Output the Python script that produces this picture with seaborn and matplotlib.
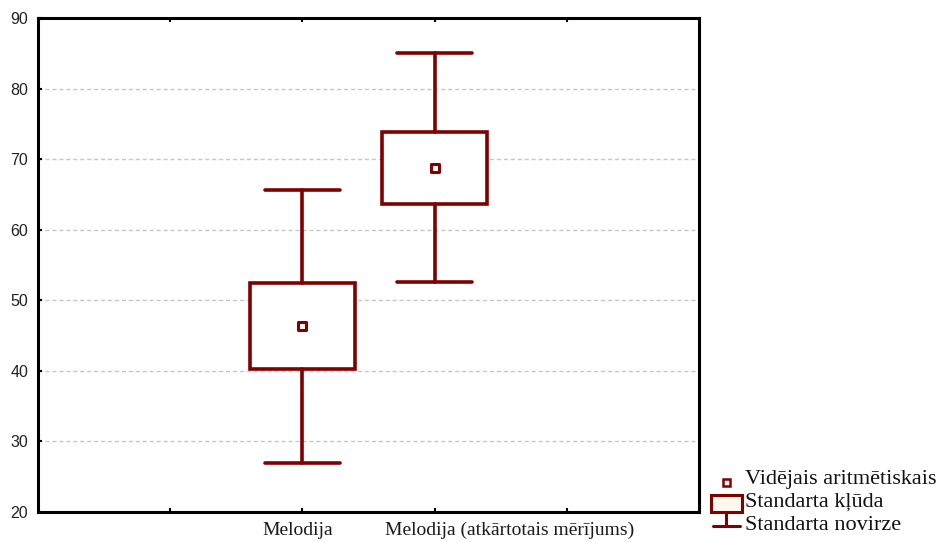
import matplotlib
matplotlib.use("Agg")
import matplotlib.pyplot as plt
import matplotlib.transforms as mtransforms
from matplotlib.legend_handler import HandlerBase
from matplotlib.patches import Rectangle
from matplotlib.lines import Line2D
import seaborn as sns
import pandas as pd

# Summary statistics per measurement
categories = ["Melodija", "Melodija (atkārtotais mērījums)"]
means = [46.3, 68.8]
std_errors = [6.1, 5.1]
std_devs = [19.3, 16.2]

legend_labels = ["Vidējais aritmētiskais", "Standarta kļūda", "Standarta novirze"]

df = pd.DataFrame({"kategorija": categories, "vid": means,
                   "se": std_errors, "sd": std_devs})

DARK_RED = "#800000"
SERIF = ["Liberation Serif", "DejaVu Serif"]

sns.set_theme(style="white")
plt.rcParams["font.family"] = ["Liberation Sans", "DejaVu Sans"]

fig = plt.figure(figsize=(9.38, 5.42), dpi=100)
ax = fig.add_axes([38 / 938, 30 / 542, 661 / 938, 494 / 542])

# Box = mean ± SE, whiskers = mean ± SD
stats = []
for _, r in df.iterrows():
    stats.append({
        "med": r["vid"],
        "q1": r["vid"] - r["se"],
        "q3": r["vid"] + r["se"],
        "whislo": r["vid"] - r["sd"],
        "whishi": r["vid"] + r["sd"],
        "label": r["kategorija"],
    })

line_kw = dict(color=DARK_RED, linewidth=2.6)
ax.bxp(stats, positions=range(len(df)), widths=0.8, capwidths=0.57,
       showfliers=False, patch_artist=True,
       boxprops=dict(facecolor="white", edgecolor=DARK_RED, linewidth=2.6),
       whiskerprops=line_kw, capprops=line_kw,
       medianprops=dict(linewidth=0, alpha=0))

sns.scatterplot(data=df, x=range(len(df)), y="vid", ax=ax, marker="s",
                s=30, color="white", edgecolor=DARK_RED, linewidth=2.2,
                zorder=5, legend=False)

ax.set_xlim(-2, 3)
ax.set_ylim(20, 90)
ax.set_yticks(range(20, 91, 10))
ax.set_xticks([-1, 0, 1, 2])
ax.set_xticklabels([])
ax.set_xlabel("")
ax.set_ylabel("")
for lbl in ax.get_yticklabels():
    lbl.set_fontsize(11.5)
    lbl.set_color("#222222")

# category labels, nudged sideways so the long one clears its neighbour
label_shift_px = [-5, 75]
base = ax.get_xaxis_transform()
for i, (name, dx) in enumerate(zip(categories, label_shift_px)):
    tr = mtransforms.offset_copy(base, fig=fig, x=dx, y=-10, units="dots")
    ax.text(i, 0, name, transform=tr, ha="center", va="top",
            fontfamily=SERIF, fontsize=14, color="#1a1a1a")

for y in range(30, 90, 10):
    ax.axhline(y, color="#c8c8c8", linewidth=1.0, linestyle=(0, (3, 2)), zorder=0)

for s in ax.spines.values():
    s.set_visible(True)
    s.set_color("black")
    s.set_linewidth(2.2)

ax.tick_params(axis="both", direction="in", length=3, width=1.5, color="black",
               top=True, bottom=True, left=True, right=False)
ax.tick_params(axis="y", pad=7)


class MeanHandler(HandlerBase):
    def create_artists(self, legend, orig, x0, y0, w, h, fontsize, trans):
        cx = x0 + w / 2
        sq = Rectangle((cx - 2.5, y0 - 2), 5, 5, facecolor="white",
                       edgecolor=DARK_RED, linewidth=1.8, transform=trans)
        return [sq]


class BoxHandler(HandlerBase):
    def create_artists(self, legend, orig, x0, y0, w, h, fontsize, trans):
        cx = x0 + w / 2
        box = Rectangle((cx - 11, y0 - 4), 22, h + 1, facecolor="#fff8ec",
                        edgecolor=DARK_RED, linewidth=2.2, transform=trans)
        return [box]


class WhiskerHandler(HandlerBase):
    def create_artists(self, legend, orig, x0, y0, w, h, fontsize, trans):
        cx = x0 + w / 2
        stem = Line2D([cx, cx], [y0 + h + 1, y0 + 3], color=DARK_RED,
                      linewidth=2.2, transform=trans)
        cap = Line2D([cx - 10, cx + 10], [y0 + 3, y0 + 3], color=DARK_RED,
                     linewidth=2.2, transform=trans)
        return [stem, cap]


handles = [Line2D([], []), Rectangle((0, 0), 1, 1), Line2D([], [], marker="_")]
leg = fig.legend(handles, legend_labels,
                 handler_map={handles[0]: MeanHandler(), handles[1]: BoxHandler(),
                              handles[2]: WhiskerHandler()},
                 loc="upper left", bbox_to_anchor=(712 / 938, 1 - 468 / 542),
                 frameon=False, prop={"family": SERIF, "size": 16},
                 handlelength=1.3, handletextpad=0.2, labelspacing=0.12,
                 borderpad=0, borderaxespad=0)
for t in leg.get_texts():
    t.set_color("#111111")

fig.savefig("out.png", dpi=100)
